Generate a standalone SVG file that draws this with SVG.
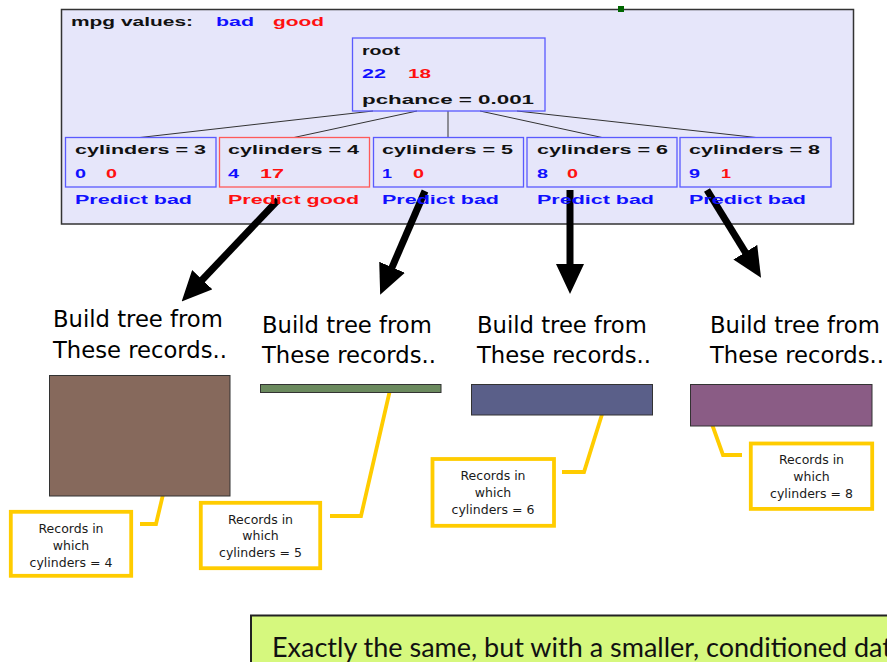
<svg xmlns="http://www.w3.org/2000/svg" width="887" height="662" viewBox="0 0 887 662">
  <style>
    .gui { font-family: "Liberation Sans", Arial, sans-serif; font-weight: bold; font-size: 13px; }
    .blk { fill: #111; }
    .blu { fill: #1010ff; }
    .red { fill: #ff1010; }
    .nodeB { fill: none; stroke: #5a5aff; stroke-width: 1.3; }
    .nodeR { fill: none; stroke: #ff5a5a; stroke-width: 1.3; }
    .tree { stroke: #333; stroke-width: 1; fill: none; }
    .big { stroke: #000; stroke-width: 7; fill: none; }
    .lead { stroke: #ffcc00; stroke-width: 3.8; fill: none; }
    .call { fill: #fff; stroke: #ffcc00; stroke-width: 3.8; }
    .ctxt { font-family: "DejaVu Sans", Verdana, sans-serif; font-size: 12.5px; fill: #1a1a1a; text-anchor: middle; }
    .build { font-family: "DejaVu Sans", Verdana, sans-serif; font-size: 22.7px; fill: #000; }
    .bar { stroke: #333; stroke-width: 1; }
  </style>
  <defs>
    <marker id="head" markerUnits="userSpaceOnUse" markerWidth="30" markerHeight="28" refX="8" refY="14" orient="auto" viewBox="0 0 30 28">
      <path d="M0,0 L30,14 L0,28 z" fill="#000"/>
    </marker>
  </defs>

  <rect width="887" height="662" fill="#fff"/>

  <!-- decision tree panel -->
  <g id="panel">
    <rect x="61.5" y="9.5" width="792" height="214.5" fill="#e6e6fa" stroke="#333" stroke-width="1.5"/>
    <rect x="618" y="6" width="6" height="6" fill="#006600"/>
    <text class="gui blk" x="71" y="26" font-size="14" textLength="122" lengthAdjust="spacingAndGlyphs">mpg values:</text>
    <text class="gui blu" x="216" y="26" font-size="14" textLength="38" lengthAdjust="spacingAndGlyphs">bad</text>
    <text class="gui red" x="273" y="26" font-size="14" textLength="51" lengthAdjust="spacingAndGlyphs">good</text>
  </g>

  <g id="connectors">
    <!-- tree edges -->
    <path class="tree" d="M373,111 L140,137.5 M417,111 L294,137.5 M448,111 L448,137.5 M480,111 L602,137.5 M517,111 L756,137.5"/>
    <!-- thick arrows -->
    <line class="big" x1="278" y1="200" x2="196.8" y2="285.5" marker-end="url(#head)"/>
    <line class="big" x1="425" y1="191" x2="388.9" y2="274.6" marker-end="url(#head)"/>
    <line class="big" x1="570" y1="190" x2="570" y2="272" marker-end="url(#head)"/>
    <line class="big" x1="707" y1="190" x2="749.5" y2="259" marker-end="url(#head)"/>
    <!-- callout leaders -->
    <polyline class="lead" points="140,524 156,524 170,465"/>
    <polyline class="lead" points="330,516 361,516 390,390"/>
    <polyline class="lead" points="562,472 584,472 604,408"/>
    <polyline class="lead" points="742,455 723,455 703,399"/>
  </g>

  <g id="root">
    <rect class="nodeB" x="352.5" y="38" width="192.5" height="73"/>
    <text class="gui blk" x="362" y="55" textLength="38" lengthAdjust="spacingAndGlyphs">root</text>
    <text class="gui blu" x="362" y="78" textLength="24" lengthAdjust="spacingAndGlyphs">22</text>
    <text class="gui red" x="408" y="78" textLength="23" lengthAdjust="spacingAndGlyphs">18</text>
    <text class="gui blk" x="362" y="104" textLength="172" lengthAdjust="spacingAndGlyphs">pchance = 0.001</text>
  </g>

  <g id="cyl3">
    <rect class="nodeB" x="65.5" y="137.5" width="150.5" height="49.5"/>
    <text class="gui blk" x="75" y="154" textLength="131" lengthAdjust="spacingAndGlyphs">cylinders = 3</text>
    <text class="gui blu" x="75" y="178" textLength="11" lengthAdjust="spacingAndGlyphs">0</text>
    <text class="gui red" x="106" y="178" textLength="11" lengthAdjust="spacingAndGlyphs">0</text>
    <text class="gui blu" x="75" y="203.5" textLength="117" lengthAdjust="spacingAndGlyphs">Predict bad</text>
  </g>

  <g id="cyl4">
    <rect class="nodeR" x="219.5" y="137.5" width="150" height="49.5"/>
    <text class="gui blk" x="228" y="154" textLength="131" lengthAdjust="spacingAndGlyphs">cylinders = 4</text>
    <text class="gui blu" x="228" y="178" textLength="11" lengthAdjust="spacingAndGlyphs">4</text>
    <text class="gui red" x="260" y="178" textLength="24" lengthAdjust="spacingAndGlyphs">17</text>
    <text class="gui red" x="228" y="203.5" textLength="131" lengthAdjust="spacingAndGlyphs">Predict good</text>
  </g>

  <g id="cyl5">
    <rect class="nodeB" x="373.5" y="137.5" width="150" height="49.5"/>
    <text class="gui blk" x="382" y="154" textLength="131" lengthAdjust="spacingAndGlyphs">cylinders = 5</text>
    <text class="gui blu" x="382" y="178" textLength="10" lengthAdjust="spacingAndGlyphs">1</text>
    <text class="gui red" x="413" y="178" textLength="11" lengthAdjust="spacingAndGlyphs">0</text>
    <text class="gui blu" x="382" y="203.5" textLength="117" lengthAdjust="spacingAndGlyphs">Predict bad</text>
  </g>

  <g id="cyl6">
    <rect class="nodeB" x="527" y="137.5" width="150" height="49.5"/>
    <text class="gui blk" x="537" y="154" textLength="131" lengthAdjust="spacingAndGlyphs">cylinders = 6</text>
    <text class="gui blu" x="537" y="178" textLength="11" lengthAdjust="spacingAndGlyphs">8</text>
    <text class="gui red" x="567" y="178" textLength="11" lengthAdjust="spacingAndGlyphs">0</text>
    <text class="gui blu" x="537" y="203.5" textLength="117" lengthAdjust="spacingAndGlyphs">Predict bad</text>
  </g>

  <g id="cyl8">
    <rect class="nodeB" x="680" y="137.5" width="151" height="49.5"/>
    <text class="gui blk" x="689" y="154" textLength="131" lengthAdjust="spacingAndGlyphs">cylinders = 8</text>
    <text class="gui blu" x="689" y="178" textLength="11" lengthAdjust="spacingAndGlyphs">9</text>
    <text class="gui red" x="721" y="178" textLength="10" lengthAdjust="spacingAndGlyphs">1</text>
    <text class="gui blu" x="689" y="203.5" textLength="117" lengthAdjust="spacingAndGlyphs">Predict bad</text>
  </g>

  <!-- subsets built from each branch -->
  <g id="subset4">
    <text class="build" x="53" y="327">Build tree from</text>
    <text class="build" x="53" y="358">These records..</text>
    <rect class="bar" x="49.5" y="375.5" width="180.5" height="120.5" fill="#86695c"/>
  </g>
  <g id="subset5">
    <text class="build" x="262" y="333">Build tree from</text>
    <text class="build" x="262" y="363">These records..</text>
    <rect class="bar" x="260.5" y="384.5" width="180.5" height="8" fill="#6b8a5e"/>
  </g>
  <g id="subset6">
    <text class="build" x="477" y="333">Build tree from</text>
    <text class="build" x="477" y="363">These records..</text>
    <rect class="bar" x="471.5" y="384.5" width="181" height="30.5" fill="#5a5f89"/>
  </g>
  <g id="subset8">
    <text class="build" x="710" y="333">Build tree from</text>
    <text class="build" x="710" y="363">These records..</text>
    <rect class="bar" x="690.5" y="384.5" width="181.5" height="41.5" fill="#8a5c85"/>
  </g>

  <!-- callouts -->
  <g id="note4">
    <rect class="call" x="10.8" y="511.8" width="120.4" height="64"/>
    <text class="ctxt" x="71" y="533">Records in</text>
    <text class="ctxt" x="71" y="549.5">which</text>
    <text class="ctxt" x="71" y="566.5">cylinders = 4</text>
  </g>
  <g id="note5">
    <rect class="call" x="200.8" y="502.8" width="119.4" height="65.4"/>
    <text class="ctxt" x="260.5" y="523.5">Records in</text>
    <text class="ctxt" x="260.5" y="540">which</text>
    <text class="ctxt" x="260.5" y="557">cylinders = 5</text>
  </g>
  <g id="note6">
    <rect class="call" x="432.5" y="459" width="121.5" height="66.8"/>
    <text class="ctxt" x="493" y="480">Records in</text>
    <text class="ctxt" x="493" y="497">which</text>
    <text class="ctxt" x="493" y="514">cylinders = 6</text>
  </g>
  <g id="note8">
    <rect class="call" x="750.8" y="443.5" width="121.4" height="65.4"/>
    <text class="ctxt" x="811.5" y="463.5">Records in</text>
    <text class="ctxt" x="811.5" y="480.5">which</text>
    <text class="ctxt" x="811.5" y="497.5">cylinders = 8</text>
  </g>

  <!-- summary banner -->
  <g id="banner">
    <rect x="251" y="615.5" width="700" height="80" fill="#d6f87e" stroke="#222" stroke-width="2"/>
    <text x="272" y="657" font-family="Lato, 'Open Sans', sans-serif" font-size="27" fill="#111">Exactly the same, but with a smaller, conditioned data</text>
  </g>
</svg>
